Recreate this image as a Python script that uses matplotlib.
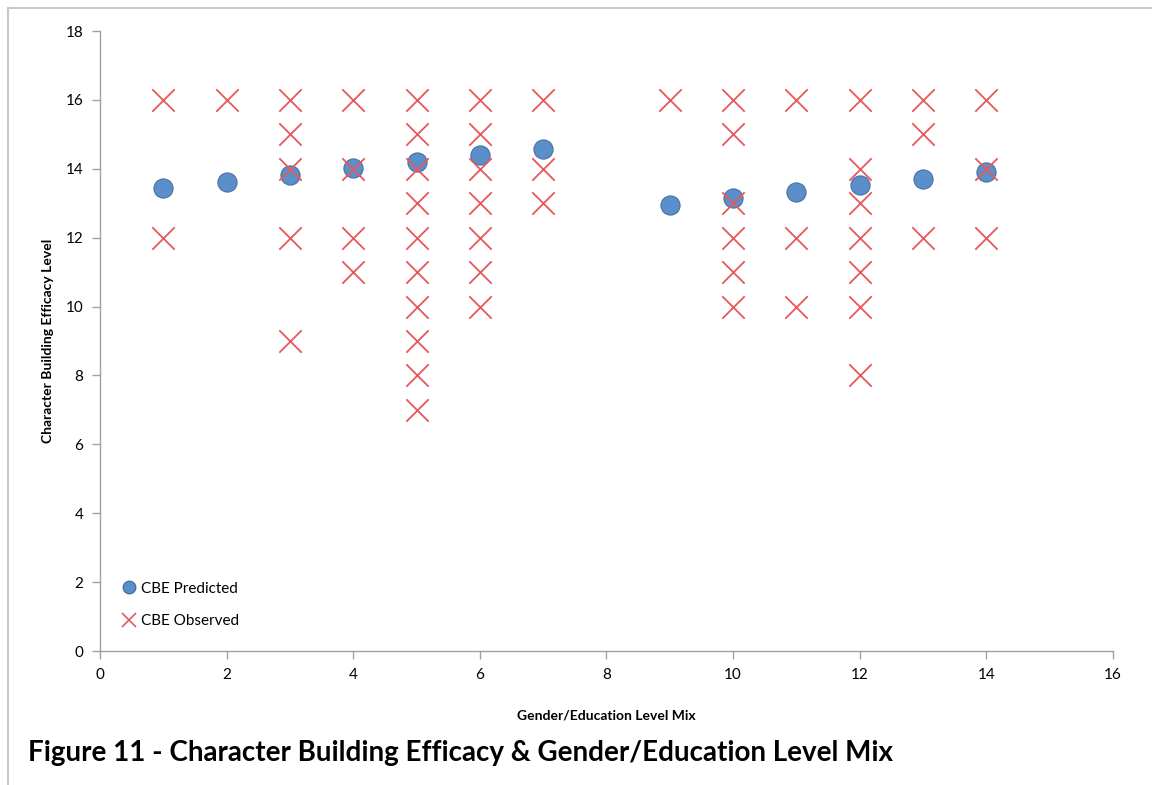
import matplotlib
matplotlib.use("Agg")
import matplotlib.pyplot as plt
from matplotlib.lines import Line2D

plt.rcParams['font.family'] = ['Lato', 'DejaVu Sans']

# Observed values per group
obs_x = [1, 1,
         2,
         3, 3, 3, 3, 3,
         4, 4, 4, 4,
         5, 5, 5, 5, 5, 5, 5, 5, 5, 5,
         6, 6, 6, 6, 6, 6, 6,
         7, 7, 7,
         9,
         10, 10, 10, 10, 10, 10,
         11, 11, 11,
         12, 12, 12, 12, 12, 12, 12,
         13, 13, 13,
         14, 14, 14]
obs_y = [16, 12,
         16,
         16, 15, 14, 12, 9,
         16, 14, 12, 11,
         16, 15, 14, 13, 12, 11, 10, 9, 8, 7,
         16, 15, 14, 13, 12, 11, 10,
         16, 14, 13,
         16,
         16, 15, 13, 12, 11, 10,
         16, 12, 10,
         16, 14, 13, 12, 11, 10, 8,
         16, 15, 12,
         16, 14, 12]

pred_x = [1, 2, 3, 4, 5, 6, 7, 9, 10, 11, 12, 13, 14]
pred_y = [13.44, 13.63, 13.82, 14.01, 14.2, 14.39, 14.58,
          12.95, 13.14, 13.33, 13.52, 13.71, 13.9]

xticks = [0, 2, 4, 6, 8, 10, 12, 14, 16]
yticks = [0, 2, 4, 6, 8, 10, 12, 14, 16, 18]

fig = plt.figure(figsize=(11.52, 7.85), dpi=100)
ax = fig.add_axes([0.0868, 0.1707, 0.8793, 0.7898])

red = '#e8585a'
blue_face = '#5b8fc9'
blue_edge = '#4a6fa5'

ax.scatter(pred_x, pred_y, s=190, color=blue_face, edgecolors=blue_edge,
           linewidths=0.8, zorder=2, label='CBE Predicted')
ax.scatter(obs_x, obs_y, marker='x', s=260, color=red, linewidths=1.3,
           zorder=3, label='CBE Observed')

ax.set_xlim(0, 16)
ax.set_ylim(0, 18)
ax.set_xticks(xticks)
ax.set_yticks(yticks)
ax.tick_params(direction='out', length=6, width=1, color='#a0a0a0',
               labelsize=11, pad=6)
for s in ['top', 'right']:
    ax.spines[s].set_visible(False)
for s in ['left', 'bottom']:
    ax.spines[s].set_color('#a0a0a0')
    ax.spines[s].set_linewidth(1)

ax.set_xlabel('Gender/Education Level Mix', fontsize=10, fontweight='bold', labelpad=20)
ax.set_ylabel('Character Building Efficacy Level', fontsize=10, fontweight='bold', labelpad=8)

handles = [Line2D([], [], marker='o', linestyle='none', markersize=9,
                  markerfacecolor=blue_face, markeredgecolor=blue_edge),
           Line2D([], [], marker='x', linestyle='none', markersize=10,
                  markeredgecolor=red, markeredgewidth=1.2)]
ax.legend(handles, ['CBE Predicted', 'CBE Observed'], loc='lower left',
          bbox_to_anchor=(0.003, 0.015), frameon=False, fontsize=11,
          handletextpad=0.0, labelspacing=1.2, handlelength=1.6)

fig.text(0.024, 0.031, 'Figure 11 - Character Building Efficacy & Gender/Education Level Mix',
         fontsize=20, fontweight='bold', ha='left', va='baseline')

# page border
fig.add_artist(Line2D([0.007, 1.0], [0.99, 0.99], color='#c8c8c8', lw=1.5,
                      transform=fig.transFigure))
fig.add_artist(Line2D([0.007, 0.007], [0.0, 0.99], color='#c8c8c8', lw=1.5,
                      transform=fig.transFigure))

fig.savefig('out.png', dpi=100)
